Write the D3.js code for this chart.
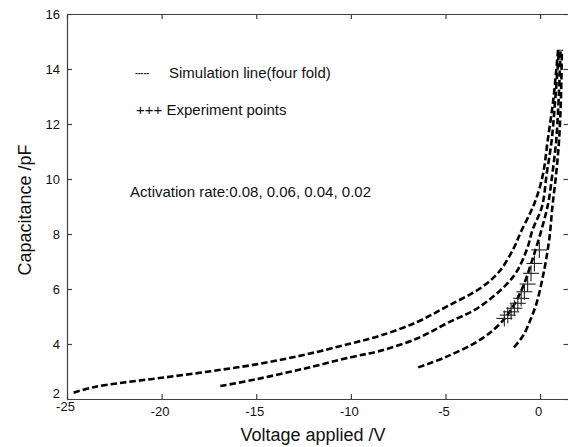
<!DOCTYPE html>
<html><head><meta charset="utf-8">
<script src="https://cdn.jsdelivr.net/npm/d3@7"></script>
<style>body{margin:0;background:#fff;}svg{display:block;font-family:"Liberation Sans",Arial,sans-serif;}</style>
</head><body><svg id="c" width="568" height="447"></svg>
<script>
// Simulation curves (Voltage V, Capacitance pF), activation rates 0.08, 0.06, 0.04, 0.02
const curveA = [[-24.65,2.23],[-23.6,2.43],[-22,2.6],[-20,2.77],[-17.5,3.0],[-15,3.26],[-12.5,3.6],[-10,4.02],[-8.46,4.3],[-6.5,4.8],[-4.94,5.36],[-3.18,6.02],[-2.2,6.6],[-1.42,7.45],[-1.0,8.1],[-0.5,8.8],[-0.2,9.3],[0.16,10.2],[0.4,11.4],[0.7,12.9],[0.95,14.7]];
const curveB = [[-16.9,2.47],[-15,2.72],[-12.5,3.1],[-10,3.52],[-8.46,3.75],[-6.5,4.2],[-4.94,4.75],[-3.18,5.36],[-1.42,6.45],[-0.71,7.42],[-0.4,8.15],[0.1,9.0],[0.35,10.2],[0.61,11.4],[0.8,12.9],[1.0,14.7]];
const curveC = [[-6.44,3.15],[-4.94,3.54],[-3.18,4.15],[-1.94,4.87],[-1.06,5.84],[-0.36,7.17],[0.25,8.6],[0.45,9.2],[0.65,10.2],[0.85,11.4],[0.98,12.9],[1.08,14.7]];
const curveD = [[-1.38,3.88],[-0.9,4.3],[-0.5,4.9],[-0.18,5.5],[0.1,6.3],[0.3,7.0],[0.5,7.9],[0.65,9.0],[0.85,10.2],[1.0,11.4],[1.1,12.9],[1.15,14.7]];
const curves = [curveA, curveB, curveC, curveD];
// Experiment points
const expV = [-0.04,-0.3,-0.48,-0.66,-0.83,-1.0,-1.18,-1.36,-1.53,-1.71,-1.89];
const expC = [7.42,6.93,6.57,6.18,5.9,5.66,5.48,5.3,5.17,5.05,4.93];
const xTicks = [-25,-20,-15,-10,-5,0];
const yTicks = [2,4,6,8,10,12,14,16];
const xTitle = "Voltage applied /V";
const yTitle = "Capacitance /pF";
const notes = ["-----","Simulation line(four fold)","+++ Experiment points","Activation rate:0.08, 0.06, 0.04, 0.02"];

const svg = d3.select("#c");
const L=67,R=568.5,T=14,B=399;
const x = d3.scaleLinear().domain([-25,1.5]).range([L,R]);
const y = d3.scaleLinear().domain([2,16]).range([B,T]);
const axisCol = "#404040";
const fmt = d => String(d);

const tl = 5;
const gB = svg.append("g").attr("transform",`translate(0,${B})`).call(d3.axisBottom(x).tickValues(xTicks).tickFormat(fmt).tickSizeInner(-tl).tickSizeOuter(0).tickPadding(8));
const gT = svg.append("g").attr("transform",`translate(0,${T})`).call(d3.axisTop(x).tickValues(xTicks).tickSizeInner(-tl).tickSizeOuter(0).tickFormat(""));
const gL = svg.append("g").attr("transform",`translate(${L},0)`).call(d3.axisLeft(y).tickValues(yTicks).tickFormat(fmt).tickSizeInner(-tl).tickSizeOuter(0).tickPadding(7));
const gR = svg.append("g").attr("transform",`translate(${R},0)`).call(d3.axisRight(y).tickValues(yTicks).tickSizeInner(-tl).tickSizeOuter(0).tickFormat(""));
[gB,gT,gL,gR].forEach(g=>{
  g.selectAll("path,line").attr("stroke",axisCol).attr("stroke-width",1.2);
  g.selectAll("text").attr("fill","#111").style("font-size","13px").style("font-family","'Liberation Sans',Arial,sans-serif");
});
gB.selectAll("text").attr("dy","0.71em").attr("dx","-2");
gL.selectAll("text").attr("dy","0.35em");
gL.selectAll(".tick").filter(d=>d===2).select("text").attr("dy","-0.15em");
gB.selectAll(".tick").filter(d=>d===-25).select("text").attr("dy","0.3em");

const line = d3.line().x(d=>x(d[0])).y(d=>y(d[1])).curve(d3.curveCatmullRom.alpha(0.5));
svg.append("g").selectAll("path").data(curves).join("path")
  .attr("d",line).attr("fill","none").attr("stroke","#000")
  .attr("stroke-width",2.6).attr("stroke-dasharray","6.5,3");

const cs = 8;
const pg = svg.append("g").attr("stroke","#222").attr("stroke-width",1.1);
expV.forEach((v,i)=>{
  const cx=x(v), cy=y(expC[i]);
  pg.append("line").attr("x1",cx-cs).attr("x2",cx+cs).attr("y1",cy).attr("y2",cy);
  pg.append("line").attr("x1",cx).attr("x2",cx).attr("y1",cy-cs).attr("y2",cy+cs);
});

const fs = "15px";
svg.append("text").attr("x",135).attr("y",78).text(notes[0]).style("font-size",fs).attr("textLength",14).attr("lengthAdjust","spacingAndGlyphs").attr("fill","#111");
svg.append("text").attr("x",169).attr("y",78).text(notes[1]).style("font-size",fs).attr("fill","#111");
svg.append("text").attr("x",136).attr("y",115).text(notes[2]).style("font-size",fs).attr("fill","#111");
svg.append("text").attr("x",130).attr("y",197).text(notes[3]).style("font-size",fs).attr("fill","#111");

svg.append("text").attr("x",313).attr("y",441).attr("text-anchor","middle").text(xTitle).style("font-size","18px").attr("fill","#111");
svg.append("text").attr("transform",`translate(31,210) rotate(-90)`).attr("text-anchor","middle").text(yTitle).style("font-size","18px").attr("fill","#111");
</script></body></html>
